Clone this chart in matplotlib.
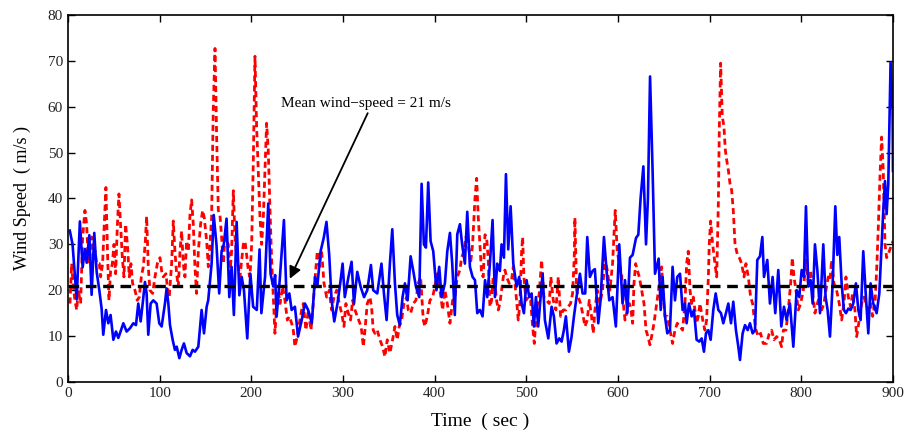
import matplotlib
matplotlib.use('Agg')
import matplotlib.pyplot as plt

# blue (solid) wind-speed record
t_blue = [2, 5, 9.5, 13, 16, 18.5, 20.4, 23.3, 25.8, 28.7, 31.3, 34.2, 36.7, 38.5, 41.5, 44, 46.5, 49.5, 52.4, 54.9,
          56.7, 60.4, 64, 67.6, 71.3, 74.2, 76.7, 79.3, 81.5, 84, 85.8, 87.6, 90.2, 93.1, 96.7, 99.6, 102.2, 105.8, 107.6, 109.5,
          111.3, 114.2, 116.7, 118.6, 121.5, 124, 126.5, 129.5, 133.1, 136, 138.5, 142.2, 145.8, 148.4, 151.3,
          153, 156.7, 159, 162, 165, 167.6, 170, 173, 176, 178.5, 181, 184, 187, 189.5, 192, 195.6, 199, 202, 206, 209,
          211, 215, 218.5, 221, 224, 226, 227.6, 231, 235.6, 238.5, 241.5, 244, 247.6, 251, 255, 258.5, 262, 266, 269.5,
          272, 275.6, 279, 282, 285, 287.6, 290.5, 294, 297, 299.6, 302,
          306, 309.4, 312, 315.6, 319.2, 323, 326.5, 330.5, 333, 337.4, 342, 344.7, 347.6, 351.2, 353.8, 356.7, 359.2,
          362, 365, 367.6, 370.5, 373.8, 376.7, 379.6, 383.2, 385.8, 388.3, 390.5, 393, 395.6, 398.5, 402, 405, 407.6,
          411.2, 413.8, 416.7, 419.2, 422, 424.7, 427.6, 430, 433, 435.6, 438.5, 441.4, 444, 446.5, 449.4,
          452.3, 455, 457.4, 460.3, 463.2, 465.8, 468.3, 471.2, 473, 475.6, 477.8, 480.3, 482.9, 485.8, 489.4, 492.3,
          494.9, 497.4, 500.3, 503.2, 505.8, 508.3, 510.5, 513, 515.6, 517.8, 520.3, 524, 527.6, 530.1, 533, 536, 538.5,
          541, 543.2, 546.5, 549.4, 552, 554.8, 558.5, 561.4, 564.3, 566.5, 569.4, 572.3, 574.8, 578.5, 581, 584.7,
          587.6, 590.5, 594.1, 597.7, 601.4,
          605, 607.7, 610.2, 613.1, 616, 619.7, 622.2, 624.7, 627.7, 630.6, 632.7, 635, 637.8, 640.4, 642.2, 644.4,
          646.6, 648.7, 651.3, 653.8, 656.7, 659.6, 662.2, 664.7, 667.7, 670.5, 673.1, 674.9, 677.5, 680.4, 682.9,
          685.8, 688.7, 691.3, 693.8, 696, 698.6, 701.1, 704, 706.6, 709.5, 712.4, 714.9, 717.8, 720.4, 723.3, 725.8,
          728.7, 731.3, 733.1, 736, 738.6, 741.5, 744, 746.9, 749.5, 752, 754.9, 757.5,
          759.3, 762.9, 765.8, 768.7, 771.6, 774.9, 778.2, 781.1, 784, 787.6, 791.3, 794.9, 797.8, 800.4, 802.9, 805.1,
          807.6, 810.2, 812.4, 814.9, 817.5, 820.4, 824, 826.5, 828.7, 831.3, 834.2, 837.1, 839.3, 841.4, 844, 846.5,
          848.7, 851.3, 853.8, 856.7, 859.6, 862.2, 864.7, 867.6, 870.5, 873.1, 875.6, 878.5, 882.2, 885.1, 887.6,
          889.4, 891.3, 893.1, 894.9, 897.4, 899.6, 900]
v_blue = [33, 30, 18, 35, 25, 29, 26, 32, 19, 32.5, 24, 20, 16, 10.3, 15.7, 12.8, 14.6, 9.2, 11, 9.6,
          10.6, 12.8, 11, 11.7, 12.8, 12.4, 17.1, 13.2, 17.1, 21.8, 19.3, 10.3, 17.1, 17.8, 17.1, 12.8, 12.1, 17.1, 20.4, 17.1,
          12.4, 9.2, 7, 7.7, 5.2, 7, 8.4, 6.3, 5.6, 7, 6.6, 7.7, 15.7, 10.6, 16.4,
          17.8, 25.8, 36.4, 30, 19.3, 28.5, 30, 35.6, 18.5, 25.1, 14.6, 34.9, 18.9, 22.9, 20, 9.5, 23.6, 16.4, 15.7, 28.9,
          15, 22.9, 38.9, 23.6, 20.8, 23.3, 14.3, 22.2, 35.3, 17.8, 19.3, 15.7, 16.4, 9.9, 13.5, 17.1, 15.7, 12.8, 22.9,
          20.8, 28.5, 31.4, 34.9, 27.7, 17.8, 13.2, 17.1, 21.5, 25.8, 18.5,
          22.9, 26.2, 17.1, 24, 20.8, 18.5, 20, 25.5, 20, 19.3, 25.8, 19.3, 13.5, 25.8, 33.3, 21.5, 14.6,
          12.4, 18.5, 21.5, 17.8, 27.4, 24.2, 20.8, 18.5, 43.2, 30, 29.3, 43.5, 30.7, 28.5, 20, 25.1, 18.5,
          21.5, 28.5, 32.5, 25.8, 14.6, 32.2, 34.4, 30, 25.8, 37.1, 25.1, 22.9, 22.2, 15, 15.7,
          14.3, 22.2, 18.5, 25.8, 35.3, 18.5, 25.8, 24.2, 30, 27.1, 45.3, 28.9, 38.3, 25.8, 20.8, 22.9,
          17.1, 15, 22.2, 18.5, 19.3, 12.1, 18.5, 12.1, 18.5, 23.6, 13.5, 9.5, 16.4, 14.3, 8.4, 9.5, 8.8,
          11.3, 14.3, 6.6, 9.9, 14.3, 18.5, 23.6, 19.3, 19.3, 31.6, 22.9, 24.2, 24.6, 12.8, 17.8, 31.6,
          24.2, 17.8, 18.5, 12.1, 30,
          17.1, 22.2, 15, 27.1, 27.7, 31.4, 32.1, 40.1, 47, 30, 40.1, 66.6, 45.9, 23.6, 25.1, 26.9,
          15.7, 22.9, 14.3, 10.6, 11.3, 25.1, 17.8, 22.9, 23.6, 15.7, 17.1, 12.8, 17.1, 14.3, 15.7,
          9.2, 8.8, 9.5, 6.6, 10.6, 11.3, 9.2, 15.7, 19.3, 15.7, 15, 12.8, 15, 17.1, 12.8, 17.5,
          11.3, 7.7, 4.8, 10.6, 12.4, 11.3, 12.8, 10.6, 11.3, 26.6, 27.4, 31.6,
          22.9, 26.6, 17.1, 22.9, 15, 24.4, 12.1, 16.4, 13.5, 17.1, 7.7, 20, 18.5, 24.4, 22.9, 38.3,
          20.8, 22.2, 17.1, 30, 24.4, 15, 30, 18.5, 15.7, 9.9, 21.5, 38.3, 27.7, 31.6, 21.5, 15.7,
          15, 16, 15.7, 17.1, 21.5, 15.7, 13.5, 28.5, 18.5, 10.6, 21.5, 17.1, 15, 19.3, 30,
          37.3, 43.8, 36.6, 43.2, 69.7, 59.1, 46]

# red (dashed) wind-speed record
t_red = [2.2, 4, 5.8, 7.6, 9.5, 11.3, 13.8, 16, 18.5, 20.4, 22.2, 24, 25.8, 27.6, 29.5, 31.3, 34.2, 35.6, 37.8, 39.6,
         41.4, 42.9, 44.7, 46.5, 48.4, 50.2, 52, 53.8, 55.6, 57.4, 59.3, 61.1, 62.9, 65.1, 66.9, 68.7, 70.5, 73.1, 75.6,
         77.8, 80, 82.2, 84.4, 85.8, 87.6, 89.4, 92.4, 94.9, 97.5, 100.4, 102.2, 104, 106.9, 108.4, 110.5, 113.1, 114.9,
         116.7, 118.5, 120.4, 122.2, 124, 125.8, 127.6, 129.4, 131.3, 133.1, 134.9, 136.7, 138.5, 140.3, 142.2, 144.7,
         146.9, 148.7, 151.3,
         153.1, 154.9, 156.7, 158.5, 160.4, 162.2, 164, 165.8, 167.6, 169.5, 171.3, 173.1, 174.9, 176.7, 178.5, 180.4,
         182.2, 184, 185.8, 187.6, 189.5, 191.3, 193.1, 194.9, 196.7, 198.5, 200.4, 202.2, 204, 205.8, 207.6, 209.5,
         211.3, 213.1, 214.9, 216.7, 218.5, 220.4, 222.2, 224, 225.8, 227.6, 229.5, 231.3, 234.2, 236.7, 239.3, 241.5,
         244, 245.8, 247.6, 250.2, 252.4, 254.9, 256.7, 259.6, 262.2, 265.1, 267.6, 270.2, 272, 274.2, 276.7, 279.3,
         282.2, 285.1, 287.6, 290.2, 293.1, 296,
         298.5, 301.1, 303.2, 305.8, 308.3, 310.5, 313.1, 315.6, 318.5, 320.3, 322.2, 324, 326.5, 329.4, 331.2, 333,
         334.9, 337.4, 340.3, 343.2, 345.8, 348.3, 351.2, 354.1, 356.7, 359.2, 361.4, 364, 366.5, 369.4, 371.2, 373.8,
         376.7, 379.6, 382.1, 384.7, 387.6, 389.4, 392, 394.9, 397.8, 400.3, 402.9, 405.8, 408.7, 411.2, 413.8, 416.7,
         419.6, 422.1, 424.7, 427.6, 429.4, 432, 434.1, 436.7, 439.2, 441.4, 444, 445.8, 447.6, 449.4,
         451.2, 453, 454.9, 456.7, 458.5, 460.3, 462.1, 463.9, 465.8, 467.6, 469.4, 471.2, 473, 474.9, 476.7, 478.5,
         481.4, 483.9, 485.8, 487.6, 489.4, 491.2, 493, 494.9, 496, 497.4, 499.6, 502.1, 504.7, 506.9, 508.7, 511.2,
         514.1, 516.7, 519.2, 522.1, 525, 526.8, 529.4, 532.3, 534.9, 537.4, 540.3, 543.2, 545.8, 548.3, 550.5, 552.3,
         553, 554.9, 556.7, 559.2, 561.4, 564, 566.5, 568.7, 571.2, 573, 574.9, 577.4, 580.3, 583.2, 585.8, 588.3,
         591.2, 594.1, 595.9, 597, 599.2, 601.4,
         604, 605.8, 607.7, 610.2, 612.4, 614.2, 616, 617.5, 619.3, 621.1, 623.3, 625.8, 628.4, 630.6, 632.7, 634.9,
         636.7, 639.3, 642.2, 645.1, 647.7, 649.5, 651.3, 653.8, 656.7, 659.6, 662.2, 664.7, 667.7, 670.5, 673.1, 674.9,
         676.7, 678.6, 680.4, 682.2, 684, 685.8, 687.6, 689.5, 691.3, 693.1, 694.9, 696.7, 698.6, 699.6, 701.1, 703.3,
         705.8, 707.7, 709.5, 710.6, 712, 713.8, 715.6, 717.1, 718.6, 720.4, 722.2, 724, 725.8, 727.7, 730.2, 732.4,
         734.9, 737.5, 739.6, 742.2, 744.7, 746.9, 748.4, 750.6, 753.1,
         755.6, 758.5, 762.2, 765.1, 767.6, 770.2, 773.1, 776, 778.5, 780.4, 783.3, 785.8, 788.4, 790.2, 792, 794.2,
         796.7, 799.3, 802.2, 805.1, 807.6, 810.2, 812.4, 814.9, 817.5, 819.6, 822.2, 824.7, 826.9, 829.4, 831.3, 833.1,
         835.6, 838.5, 841.4, 844, 846.5, 848.7, 851.3, 853.8, 856, 858.5, 860.4, 863.2, 865.8, 868.3, 870.5, 873.1,
         875.6, 877.8, 880.4, 882.2, 884, 885.8, 887.6, 889.4, 891.3, 893.1, 896, 898.6, 900]
v_red = [17.1, 25.8, 20.8, 17.8, 15.7, 20, 17.1, 31.6, 37.4, 34.4, 25.8, 30, 31.6, 26.6, 28.5, 25.8, 25.8, 22.9, 25.8, 34.4,
         42.4, 30, 17.8, 24.2, 25.8, 30, 23.6, 33.7, 41, 34.4, 27.1, 22.9, 34.4, 29.3, 22.9, 25.8, 21.5, 20, 17.8,
         18.5, 22.9, 25.1, 30.7, 36.1, 25.1, 20, 19.3, 22.9, 25.8, 27.1, 24.2, 22.9, 23.6, 20.8, 18.5, 25.8, 35.1,
         28.5, 23.6, 20.8, 28.5, 32.9, 25.8, 22.9, 30.7, 28.5, 36.4, 39.7, 34.4, 25.1, 19.3, 28.5, 34.4,
         37.4, 35.8, 30.7,
         25.1, 30, 35.8, 59.3, 72.7, 53.4, 37.4, 36.4, 31.6, 25.8, 31.6, 30.7, 30, 23.6, 28.5, 41.7,
         31.6, 27.1, 25.1, 22.9, 26.6, 30, 30.7, 27.7, 24.4, 22.9, 30, 48.3, 71, 55.7, 46.2, 35.8,
         30, 35.8, 46.2, 56.4, 50.6, 37.4, 26.6, 18.5, 10.6, 16.4, 20, 17.1, 20.8, 17.8, 13.5, 14.3,
         12.8, 11.3, 7.7, 9.9, 12.8, 15.7, 17.1, 11.3, 15.7, 11.3, 17.1, 24.2, 28.5, 25.1, 28.5, 21.5,
         18.5, 20, 15.7, 18.5, 20, 17.1,
         15, 12.1, 17.1, 15, 13.5, 17.8, 15.7, 14.3, 12.8, 11.3, 7.7, 11.3, 17.1, 18.5, 16.4, 11.3,
         10.6, 11.3, 9.2, 7.7, 5.5, 9.2, 6.3, 9.2, 12.1, 9.2, 12.1, 13.5, 17.1, 18.5, 15.7, 15,
         17.1, 17.8, 21.5, 22.9, 13.5, 12.1, 14.3, 17.8, 18.5, 20.8, 23.6, 20, 15.7, 20, 17.1, 12.8,
         17.8, 18.5, 22.9, 24.4, 27.1, 28.5, 31.6, 30, 25.8, 30, 40, 44.4, 35.8, 30,
         23.6, 22.9, 32.1, 31.6, 26.6, 16.4, 17.8, 22.9, 21.5, 17.8, 15.7, 17.1, 20, 22.9, 24.4, 22.9,
         21.5, 22.2, 25.1, 21.5, 17.8, 13.5, 17.1, 28.5, 31.6, 22.9, 17.8, 18.5, 17.8, 12.1, 8.4, 15.7,
         19.3, 26.6, 18.5, 17.8, 17.1, 22.9, 17.8, 15.7, 22.9, 14.3, 15.7, 15.7, 16.4, 17.1, 19.3, 27.1,
         35.8, 20, 18.5, 17.1, 15, 12.1, 13.5, 17.8, 14.3, 10.6, 15.7, 20, 17.1, 20, 27.1, 24.4,
         20, 25.8, 32.9, 37.4, 28.5, 25.8,
         23.6, 17.1, 13.5, 15.7, 17.1, 15.7, 12.8, 21.5, 25.8, 24.4, 22.9, 20, 17.1, 11.3, 9.9, 8.1,
         9.9, 12.8, 17.1, 21.5, 25.1, 18.5, 14.3, 14.3, 11.3, 8.4, 11.3, 12.8, 12.1, 11.3, 17.1, 25.8,
         28.5, 20, 17.1, 18.5, 15.7, 12.8, 14.3, 17.1, 15, 12.8, 11.3, 13.5, 22.9, 30, 35.1, 30,
         25.8, 22.9, 38.9, 55.7, 69.5, 57.9, 55.7, 50.6, 48.4, 46.2, 43.3, 41.8, 37.4, 30, 27.8, 27.1,
         25.8, 22.9, 25.8, 22.9, 18.5, 17.1, 14.3, 11.3, 9.9,
         10.6, 8.4, 8.4, 10.6, 11.3, 9.2, 9.9, 9.2, 7.7, 11.3, 11.3, 15.7, 21.5, 27.1, 22.9, 20,
         15.7, 17.1, 20, 26.6, 21.5, 24.4, 19.3, 15, 17.1, 18.5, 15.7, 17.1, 20, 22.9, 22.2, 26.6,
         21.5, 20, 17.1, 13.5, 17.1, 22.9, 18.5, 16.4, 19.3, 15.7, 9.9, 13.5, 17.1, 18.5, 17.1, 15.7,
         17.1, 14.3, 17.1, 24.4, 33.7, 44.6, 53.4, 46.2, 30, 27.1, 28.5, 30, 30.7]

mean_speed = 21
note = 'Mean wind\u2212speed = 21 m/s'

plt.rcParams['font.family'] = ['Liberation Serif', 'DejaVu Serif']

fig = plt.figure(figsize=(9.05, 4.37), dpi=100)
ax = fig.add_axes([0.0751, 0.1259, 0.9116, 0.8398])

ax.plot(t_red, v_red, color='red', lw=2.0, ls=(0, (2.2, 1.4)))
ax.plot(t_blue, v_blue, color='blue', lw=1.9)
ax.axhline(mean_speed, color='black', lw=2.4, ls=(0, (3.2, 2.0)))

# label and arrow pointing at the mean line
ax.text(325, 60.8, note, fontsize=11, ha='center', va='center')
ax.annotate('', xy=(242, 22.5), xytext=(327, 58.6),
            arrowprops=dict(arrowstyle='-|>', color='black', lw=1.3,
                            mutation_scale=18, shrinkA=0, shrinkB=0))

ax.set_xlim(0, 900)
ax.set_ylim(0, 80)
ax.set_xticks(range(0, 901, 100))
ax.set_yticks(range(0, 81, 10))
ax.tick_params(direction='in', top=True, right=True, labelsize=11, length=5, width=1,
               labelcolor='#222222')
for s in ax.spines.values():
    s.set_linewidth(1.2)

ax.set_xlabel('Time  ( sec )', fontsize=14, labelpad=9)
ax.set_ylabel('Wind Speed  ( m/s )', fontsize=13, labelpad=12)

fig.savefig('out.png', dpi=100)
